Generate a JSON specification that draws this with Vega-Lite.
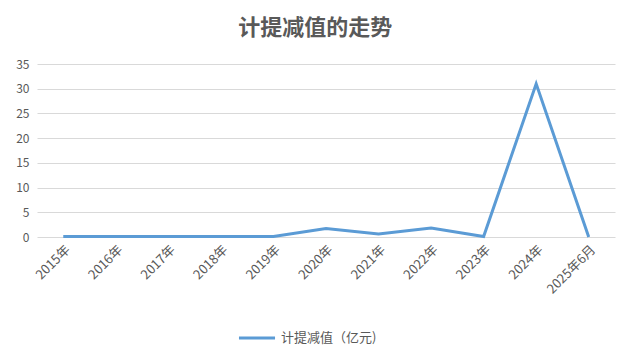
{
  "$schema": "https://vega.github.io/schema/vega-lite/v6.json",
  "autosize": {"type": "none"},
  "width": 578,
  "height": 173,
  "padding": {"left": 37, "top": 64, "right": 20, "bottom": 125},
  "background": "white",
  "title": {
    "text": "计提减值的走势",
    "font": "Noto Sans CJK SC",
    "fontSize": 22,
    "fontWeight": "bold",
    "color": "#595959",
    "anchor": "middle",
    "frame": "bounds",
    "offset": 18
  },
  "data": {
    "values": [
      {"year": "2015年", "value": 0.1, "series": "计提减值（亿元)"},
      {"year": "2016年", "value": 0.1, "series": "计提减值（亿元)"},
      {"year": "2017年", "value": 0.1, "series": "计提减值（亿元)"},
      {"year": "2018年", "value": 0.1, "series": "计提减值（亿元)"},
      {"year": "2019年", "value": 0.1, "series": "计提减值（亿元)"},
      {"year": "2020年", "value": 1.7, "series": "计提减值（亿元)"},
      {"year": "2021年", "value": 0.6, "series": "计提减值（亿元)"},
      {"year": "2022年", "value": 1.8, "series": "计提减值（亿元)"},
      {"year": "2023年", "value": 0.1, "series": "计提减值（亿元)"},
      {"year": "2024年", "value": 31.0, "series": "计提减值（亿元)"},
      {"year": "2025年6月", "value": 0.0, "series": "计提减值（亿元)"}
    ]
  },
  "mark": {"type": "line", "strokeWidth": 3, "strokeJoin": "miter"},
  "encoding": {
    "x": {
      "field": "year",
      "type": "nominal",
      "sort": null,
      "axis": {
        "title": null,
        "labelAngle": -45,
        "labelFont": "Noto Sans CJK SC",
        "labelFontSize": 13,
        "labelColor": "#595959",
        "ticks": false,
        "domain": false,
        "labelPadding": 6
      }
    },
    "y": {
      "field": "value",
      "type": "quantitative",
      "scale": {"domain": [0, 35]},
      "axis": {
        "title": null,
        "values": [0, 5, 10, 15, 20, 25, 30, 35],
        "labelFont": "Noto Sans CJK SC",
        "labelFontSize": 12,
        "labelColor": "#595959",
        "ticks": false,
        "domain": false,
        "gridColor": "#d9d9d9",
        "labelPadding": 8
      }
    },
    "color": {
      "field": "series",
      "type": "nominal",
      "scale": {"range": ["#5b9bd5"]},
      "legend": {
        "title": null,
        "orient": "none",
        "legendX": 200,
        "legendY": 254,
        "symbolType": "stroke",
        "symbolStrokeWidth": 3,
        "symbolSize": 1300,
        "labelFont": "Noto Sans CJK SC",
        "labelFontSize": 13,
        "labelColor": "#595959"
      }
    }
  },
  "config": {
    "view": {"stroke": null}
  }
}
